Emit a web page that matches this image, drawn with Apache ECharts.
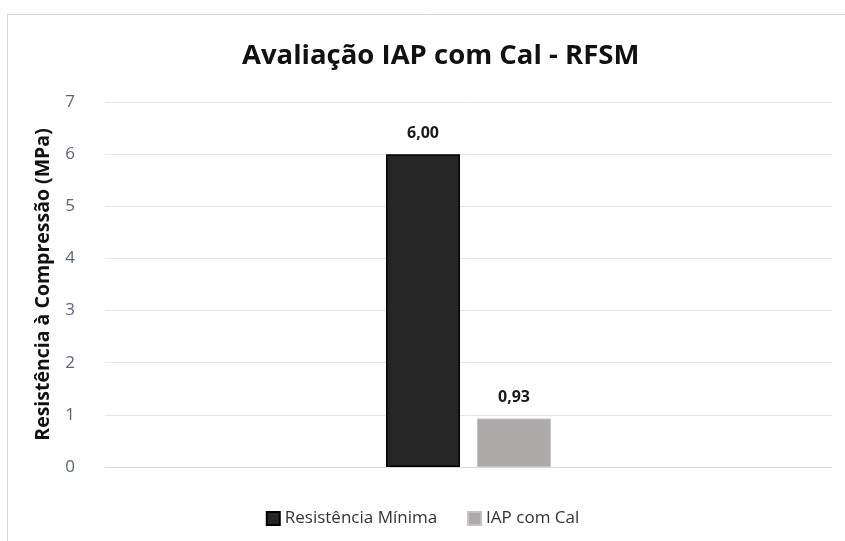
<!DOCTYPE html>
<html>
<head>
<meta charset="utf-8">
<script src="https://cdn.jsdelivr.net/npm/echarts@6/dist/echarts.min.js"></script>
<style>
  html, body { margin: 0; padding: 0; background: #fff; }
  #chart { width: 845px; height: 541px; }
</style>
</head>
<body>
<div id="chart"></div>
<script>
const categories = [""];
const seriesNames = ["Resistência Mínima", "IAP com Cal"];
const minimoValues = [6.00];
const iapValues = [0.93];
const yTicks = { min: 0, max: 7, interval: 1 };

const font = "'Open Sans', 'Noto Sans', sans-serif";
const chart = echarts.init(document.getElementById("chart"));

const labelOpt = {
  show: true,
  position: "top",
  distance: 13,
  fontFamily: font,
  fontWeight: "bold",
  fontSize: 16,
  color: "#1a1a1a",
  formatter: p => p.value.toFixed(2).replace(".", ",")
};

chart.setOption({
  animation: false,
  backgroundColor: "#fff",
  graphic: [{
    type: "rect",
    shape: { x: 7.5, y: 14.5, width: 900, height: 600 },
    style: { fill: "none", stroke: "#d9d9d9", lineWidth: 1 },
    silent: true
  }],
  title: {
    text: "Avaliação IAP com Cal - RFSM",
    left: 237,
    top: 37,
    textStyle: { fontFamily: font, fontWeight: "bold", fontSize: 27.5, color: "#111" }
  },
  legend: {
    bottom: 9,
    left: "center",
    icon: "rect",
    itemWidth: 13,
    itemHeight: 13,
    itemGap: 30,
    textStyle: { fontFamily: font, fontSize: 17, color: "#333" },
    data: seriesNames
  },
  grid: { left: 105, right: 13, top: 102, bottom: 74 },
  xAxis: {
    type: "category",
    data: categories,
    axisLine: { show: true, lineStyle: { color: "#d9d9d9" } },
    axisTick: { show: false },
    axisLabel: { show: false }
  },
  yAxis: {
    type: "value",
    min: yTicks.min,
    max: yTicks.max,
    interval: yTicks.interval,
    name: "Resistência à Compressão (MPa)",
    nameLocation: "middle",
    nameGap: 52,
    nameTextStyle: { fontFamily: font, fontWeight: "bold", fontSize: 19.5, color: "#111" },
    axisLine: { show: false },
    axisTick: { show: false },
    axisLabel: { fontFamily: font, fontSize: 17, color: "#5b6578", margin: 30 },
    splitLine: { lineStyle: { color: "#e3e6ec", width: 1 } }
  },
  series: [
    {
      name: seriesNames[0],
      type: "bar",
      data: minimoValues,
      barWidth: 74,
      barGap: "23%",
      itemStyle: { color: "#262626", borderColor: "#000", borderWidth: 1.5 },
      label: labelOpt
    },
    {
      name: seriesNames[1],
      type: "bar",
      data: iapValues,
      barWidth: 74,
      itemStyle: { color: "#aeaaaa", borderColor: "#c4c1c1", borderWidth: 1 },
      label: labelOpt
    }
  ]
});
</script>
</body>
</html>
